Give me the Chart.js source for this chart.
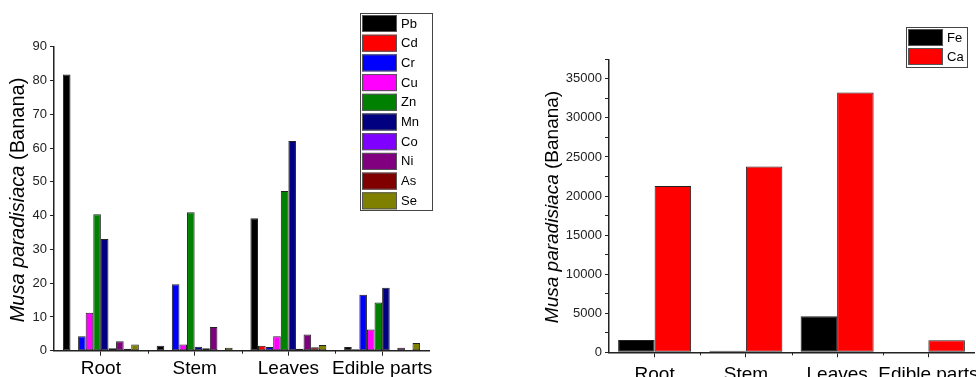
<!DOCTYPE html>
<html>
<head>
<meta charset="utf-8">
<script src="https://cdn.jsdelivr.net/npm/chart.js@4/dist/chart.umd.min.js"></script>
<style>
  html, body { margin: 0; padding: 0; background: #fff; }
  #wrap { position: relative; width: 976px; height: 377px; }
  .pane { position: absolute; top: 0; width: 488px; height: 377px; }
  #pane-left { left: 0; }
  #pane-right { left: 488px; }
</style>
</head>
<body>
<div id="wrap">
  <div class="pane" id="pane-left"><canvas id="leftChart" width="488" height="377"></canvas></div>
  <div class="pane" id="pane-right"><canvas id="rightChart" width="488" height="377"></canvas></div>
</div>
<script>
(function () {
  'use strict';

  // categories
  const parts = ['Root', 'Stem', 'Leaves', 'Edible parts'];

  // left panel: trace elements
  const pb = [81.8, 1.5, 39.2, 1.1];
  const cd = [0.2, 0.2, 1.5, 0.4];
  const cr = [4.3, 19.7, 1.1, 16.6];
  const cu = [11.2, 1.8, 4.3, 6.3];
  const zn = [40.4, 41.0, 47.3, 14.3];
  const mn = [33.1, 1.2, 62.1, 18.6];
  const co = [0.7, 0.7, 0.6, 0.1];
  const ni = [2.8, 7.0, 4.8, 0.9];
  const as = [0.6, 0.2, 1.0, 0.1];
  const se = [1.8, 0.9, 1.7, 2.3];

  // right panel: macro elements
  const fe = [1580, 200, 4610, 0];
  const ca = [21300, 23770, 33240, 1540];

  const FONT = '"Liberation Sans", Arial, Helvetica, sans-serif';
  const INK = '#222';

  Chart.defaults.font.family = FONT;
  Chart.defaults.color = INK;
  Chart.defaults.animation = false;

  // Tiêu đề trục y (chữ nghiêng một phần), vạch phụ trục x, và khung chú giải
  const extrasPlugin = {
    id: 'extras',
    afterDraw(chart, _, opts) {
      const { ctx, scales } = chart;
      const x = scales.x;

      // minor ticks between categories
      ctx.save();
      ctx.strokeStyle = INK;
      ctx.lineWidth = 1;
      const n = chart.data.labels.length;
      const step = (x.right - x.left) / n;
      for (let i = 1; i < n; i++) {
        const px = Math.round(x.left + step * i) + 0.5;
        ctx.beginPath();
        ctx.moveTo(px, x.top);
        ctx.lineTo(px, x.top + 3);
        ctx.stroke();
      }
      ctx.restore();

      // y title
      const t = opts.title;
      ctx.save();
      ctx.translate(t.x, t.y);
      ctx.rotate(-Math.PI / 2);
      ctx.fillStyle = '#000';
      ctx.textBaseline = 'middle';
      ctx.textAlign = 'left';
      ctx.font = `italic ${t.size}px ${FONT}`;
      const w1 = ctx.measureText(t.italic).width;
      ctx.font = `${t.size}px ${FONT}`;
      const w2 = ctx.measureText(t.rest).width;
      const sx = -(w1 + w2) / 2;
      ctx.font = `italic ${t.size}px ${FONT}`;
      ctx.fillText(t.italic, sx, 0);
      ctx.font = `${t.size}px ${FONT}`;
      ctx.fillText(t.rest, sx + w1, 0);
      ctx.restore();

      // legend box
      const L = opts.legend;
      const ds = chart.data.datasets;
      ctx.save();
      ctx.fillStyle = '#fff';
      ctx.fillRect(L.x, L.y, L.w, L.h);
      ctx.strokeStyle = '#444';
      ctx.lineWidth = 1;
      ctx.strokeRect(L.x + 0.5, L.y + 0.5, L.w, L.h);
      ctx.font = `${L.size}px ${FONT}`;
      ctx.textBaseline = 'middle';
      ctx.textAlign = 'left';
      ds.forEach((d, i) => {
        const top = L.y + L.pad + i * L.pitch;
        ctx.fillStyle = d.backgroundColor;
        ctx.fillRect(L.x + 2, top, L.sw, L.sh);
        ctx.strokeStyle = '#555';
        ctx.strokeRect(L.x + 2.5, top + 0.5, L.sw - 1, L.sh - 1);
        ctx.fillStyle = '#000';
        ctx.fillText(d.label, L.x + L.sw + 6, top + L.sh / 2 + 0.5);
      });
      ctx.restore();
    }
  };

  function makeSet(label, data, color) {
    return {
      label, data,
      backgroundColor: color,
      borderColor: '#222',
      borderWidth: 1,
      borderSkipped: false
    };
  }

  function baseScales(o) {
    return {
      x: {
        grid: { display: true, drawOnChartArea: false, drawTicks: true, tickLength: 5, offset: false, color: INK },
        border: { display: true, color: INK, width: 1.5 },
        ticks: { font: { size: 19 }, color: '#000', padding: o.xPad, maxRotation: 0, minRotation: 0, autoSkip: false },
        afterFit(s) { s.height = o.xHeight; s.paddingLeft = 0; s.paddingRight = 0; }
      },
      y: {
        min: 0,
        max: o.yMax,
        grid: { display: true, drawOnChartArea: false, drawTicks: true, tickLength: 4, color: INK },
        border: { display: true, color: INK, width: 1.5 },
        ticks: {
          stepSize: o.minor,
          font: { size: 13 },
          color: INK,
          padding: 3,
          callback: v => (v % o.major === 0 ? v : '')
        },
        afterFit(s) { s.width = o.yWidth; s.paddingTop = 0; s.paddingBottom = 0; }
      }
    };
  }

  function drawLeft() {
    const c = document.getElementById('leftChart');
    if (!c) return;
    new Chart(c, {
      type: 'bar',
      data: {
        labels: parts,
        datasets: [
          makeSet('Pb', pb, '#000000'),
          makeSet('Cd', cd, '#ff0000'),
          makeSet('Cr', cr, '#0000ff'),
          makeSet('Cu', cu, '#ff00ff'),
          makeSet('Zn', zn, '#008000'),
          makeSet('Mn', mn, '#000080'),
          makeSet('Co', co, '#8000ff'),
          makeSet('Ni', ni, '#800080'),
          makeSet('As', as, '#800000'),
          makeSet('Se', se, '#808000')
        ]
      },
      options: {
        responsive: false,
        datasets: { bar: { categoryPercentage: 0.81, barPercentage: 1.0 } },
        layout: { padding: { left: 0, right: 59, top: 46.7, bottom: 0 } },
        plugins: {
          legend: { display: false },
          tooltip: { enabled: false },
          extras: {
            title: { x: 18, y: 200, size: 20, italic: 'Musa paradisiaca', rest: ' (Banana)' },
            legend: { x: 360, y: 13, w: 72, h: 197, pad: 2, pitch: 19.7, sw: 35, sh: 17, size: 13 }
          }
        },
        scales: baseScales({ yMax: 90, minor: 5, major: 10, yWidth: 54, xHeight: 26.3, xPad: 2 })
      },
      plugins: [extrasPlugin]
    });
  }

  function drawRight() {
    const c = document.getElementById('rightChart');
    if (!c) return;
    new Chart(c, {
      type: 'bar',
      data: {
        labels: parts,
        datasets: [
          makeSet('Fe', fe, '#000000'),
          makeSet('Ca', ca, '#ff0000')
        ]
      },
      options: {
        responsive: false,
        datasets: { bar: { categoryPercentage: 0.8, barPercentage: 1.0 } },
        layout: { padding: { left: 0, right: 2, top: 59.3, bottom: 0 } },
        plugins: {
          legend: { display: false },
          tooltip: { enabled: false },
          extras: {
            title: { x: 65, y: 207, size: 19, italic: 'Musa paradisiaca', rest: ' (Banana)' },
            legend: { x: 418, y: 27, w: 61, h: 40, pad: 2, pitch: 19, sw: 35, sh: 17, size: 13 }
          }
        },
        scales: baseScales({ yMax: 37500, minor: 2500, major: 5000, yWidth: 121, xHeight: 24.7, xPad: 6 })
      },
      plugins: [extrasPlugin]
    });
  }

  function init() {
    drawLeft();
    drawRight();
  }

  if (document.readyState === 'loading') {
    document.addEventListener('DOMContentLoaded', init);
  } else {
    init();
  }
})();
</script>
</body>
</html>
